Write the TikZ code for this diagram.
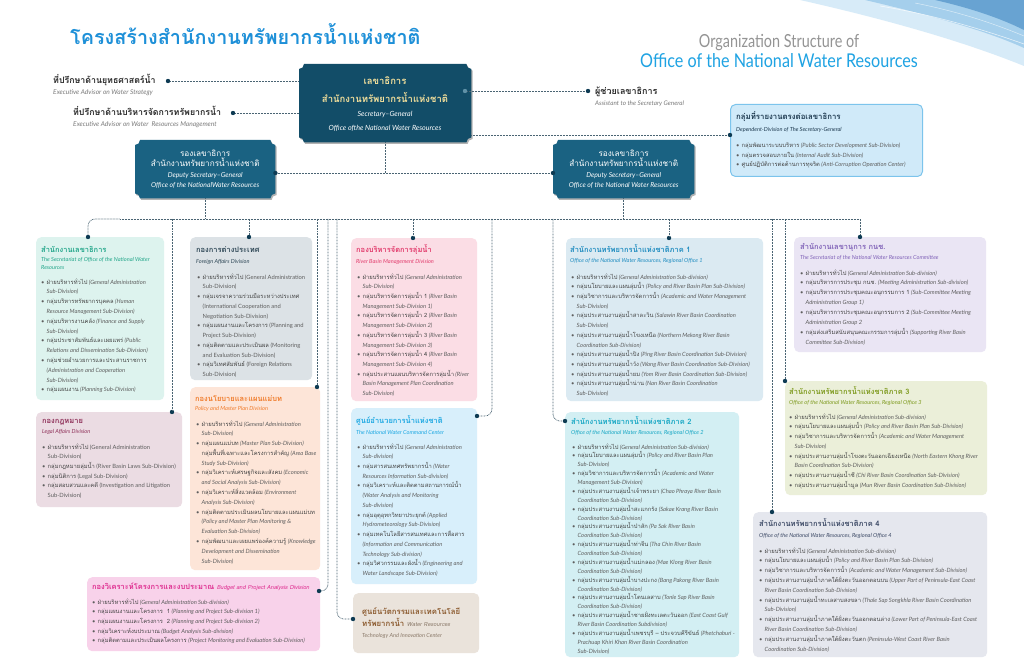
\documentclass[tikz,border=0pt]{standalone}
\usepackage{fontspec}
\setmainfont{Lato}
\newfontfamily\thaifont[Script=Thai]{Loma}
\usetikzlibrary{calc}
\definecolor{secc}{HTML}{124D68}
\definecolor{depc}{HTML}{1A6282}
\definecolor{goldc}{HTML}{F2DF9B}
\definecolor{dotc}{HTML}{0E3B53}
\definecolor{connc}{HTML}{4A6473}
\definecolor{titleblue}{HTML}{1E90D8}
\definecolor{offblue}{HTML}{1FA3E3}
\definecolor{titlegray}{HTML}{949494}
\definecolor{bodyc}{HTML}{5E5E5E}
\definecolor{thaic}{HTML}{454545}
\definecolor{advc}{HTML}{2B2B2B}
\definecolor{advec}{HTML}{7A7A7A}
\definecolor{sectf}{HTML}{DDF3EE}\definecolor{secth}{HTML}{22A68A}
\definecolor{fornf}{HTML}{DCE2E6}\definecolor{fornh}{HTML}{2E4756}
\definecolor{polif}{HTML}{FDE5D8}\definecolor{polih}{HTML}{F07C2C}
\definecolor{leglf}{HTML}{EBDCE3}\definecolor{leglh}{HTML}{8E2F58}
\definecolor{budgf}{HTML}{F8D2EA}\definecolor{budgh}{HTML}{DE2A8E}
\definecolor{rbmdf}{HTML}{FBDDE5}\definecolor{rbmdh}{HTML}{E23B6C}
\definecolor{cmdcf}{HTML}{D8EFFB}\definecolor{cmdch}{HTML}{1DA8E2}
\definecolor{innof}{HTML}{EAE3DB}\definecolor{innoh}{HTML}{8B5A2E}\definecolor{innoe}{HTML}{8B7A6A}
\definecolor{reg1f}{HTML}{DBEAF2}\definecolor{reg1h}{HTML}{1F8CC0}
\definecolor{reg2f}{HTML}{D3EFF3}\definecolor{reg2h}{HTML}{17A7C4}
\definecolor{purpf}{HTML}{EAE5F4}\definecolor{purph}{HTML}{8062B8}
\definecolor{reg3f}{HTML}{EBEFD9}\definecolor{reg3h}{HTML}{7E9A1E}
\definecolor{reg4f}{HTML}{E5E7EE}\definecolor{reg4h}{HTML}{3D4A66}
\definecolor{depdf}{HTML}{D0EAF9}\definecolor{depdb}{HTML}{7CC4EC}\definecolor{depdh}{HTML}{1E3A50}
\definecolor{blobA}{HTML}{8FC6EC}\definecolor{blobB}{HTML}{4A9BD6}\definecolor{blobC}{HTML}{1E6FB3}
% list helpers
\newcommand\bl{\makebox[5.5pt][l]{\textbullet}}
\newcommand\cl{\hspace*{5.5pt}}
\newcommand\ti[2]{\bl{\thaifont\color{thaic}#1} {\itshape #2}}
\newcommand\tu[2]{\bl{\thaifont\color{thaic}#1} #2}
\newcommand\ci[1]{\cl{\itshape #1}}
\newcommand\cu[1]{\cl #1}
\newcommand\blk[2]{\vtop{\baselineskip=#1\lineskiplimit=-50pt\lineskip=0pt\let\\\cr\halign{##\hfil\cr#2\crcr}}}
\newcommand\notchfill[2]{%
\fill[#2] ([xshift=5pt]#1.north west) -- ([xshift=-5pt]#1.north east)
 .. controls ([xshift=-5pt,yshift=-2.75pt]#1.north east) and ([xshift=-2.75pt,yshift=-5pt]#1.north east) .. ([yshift=-5pt]#1.north east)
 -- ([yshift=5pt]#1.south east)
 .. controls ([xshift=-2.75pt,yshift=5pt]#1.south east) and ([xshift=-5pt,yshift=2.75pt]#1.south east) .. ([xshift=-5pt]#1.south east)
 -- ([xshift=5pt]#1.south west)
 .. controls ([xshift=5pt,yshift=2.75pt]#1.south west) and ([xshift=2.75pt,yshift=5pt]#1.south west) .. ([yshift=5pt]#1.south west)
 -- ([yshift=-5pt]#1.north west)
 .. controls ([xshift=2.75pt,yshift=-5pt]#1.north west) and ([xshift=5pt,yshift=-2.75pt]#1.north west) .. ([xshift=5pt]#1.north west) -- cycle;}
\begin{document}
\begin{tikzpicture}[x=1pt,y=-1pt,
  conn/.style={draw=connc, line width=0.75pt, dash pattern=on 0.75pt off 0.75pt},
  dotn/.style={circle, fill=dotc, inner sep=0pt, minimum size=4.4pt},
  cbox/.style={rounded corners=5pt, inner sep=0pt, anchor=north west, draw=none},
  hole/.style={inner sep=0pt, anchor=north west, draw=none},
  hd/.style={anchor=base west, inner sep=0pt, font=\fontsize{7.5}{8}\thaifont\bfseries},
  sb/.style={anchor=base west, inner sep=0pt, font=\fontsize{5.6}{9}\selectfont\itshape},
  bd/.style={anchor=base west, inner sep=0pt, text=bodyc, font=\fontsize{5.8}{9}\selectfont},
  ctr/.style={anchor=base, inner sep=0pt}]
\useasboundingbox (0,0) rectangle (1024,668);
\fill[white] (0,0) rectangle (1024,668);
% decorative corner
\fill[blobA, opacity=0.35] (800,0) .. controls (880,18) and (960,40) .. (1024,66) -- (1024,0) -- cycle;
\fill[blobB, opacity=0.35] (865,0) .. controls (925,14) and (985,30) .. (1024,48) -- (1024,0) -- cycle;
\fill[blobC, opacity=0.45] (935,0) .. controls (970,8) and (1000,18) .. (1024,30) -- (1024,0) -- cycle;
\draw[white, opacity=0.7, line width=0.6pt] (880,6) .. controls (940,16) and (990,32) .. (1024,44);
\draw[white, opacity=0.6, line width=0.5pt] (915,3) .. controls (960,12) and (995,24) .. (1024,36);
% titles
\node[anchor=base west, inner sep=0pt, text=titleblue, font=\fontsize{19.8}{24}\thaifont\bfseries] (tth) at (70,45) {โครงสร้างสำนักงานทรัพยากรน้ำแห่งชาติ};
\node[ctr, text=titlegray, font=\fontsize{18}{20}\selectfont] (ten1) at (779,48) {\scalebox{0.8}[1]{Organization Structure of}};
\node[ctr, text=offblue, font=\fontsize{19}{21}\selectfont] (ten2) at (779,68) {\scalebox{0.85}[1]{Office of the National Water Resources}};
% secretary
\node[hole, minimum width=172pt, minimum height=78pt] (sec) at (299,64) {};
\begin{scope}[transform canvas={shift={(1.2pt,-1.6pt)}}]\notchfill{sec}{black!30}\end{scope}
\notchfill{sec}{secc}
\node[ctr, text=goldc, font=\fontsize{9.5}{10}\thaifont\bfseries] (sec1) at (385,85) {เลขาธิการ};
\node[ctr, text=goldc, font=\fontsize{9.5}{10}\thaifont\bfseries] (sec2) at (385,103) {สำนักงานทรัพยากรน้ำแห่งชาติ};
\node[ctr, text=white, font=\fontsize{7.1}{8}\selectfont\itshape] (sec3) at (385,117) {Secretary–General};
\node[ctr, text=white, font=\fontsize{7.1}{8}\selectfont\itshape] (sec4) at (385,131) {Office ofthe National Water Resources};
% advisors
\node[anchor=base west, inner sep=0pt, text=advc, font=\fontsize{8.8}{10}\thaifont\bfseries] (adv1) at (53,84) {ที่ปรึกษาด้านยุทธศาสตร์น้ำ};
\node[anchor=base west, inner sep=0pt, text=advec, font=\fontsize{6.6}{7}\selectfont\itshape] (adv1e) at (53,95) {Executive Advisor on Water Strategy};
\node[anchor=base west, inner sep=0pt, text=advc, font=\fontsize{8.8}{10}\thaifont\bfseries] (adv2) at (73,116) {ที่ปรึกษาด้านบริหารจัดการทรัพยากรน้ำ};
\node[anchor=base west, inner sep=0pt, text=advec, font=\fontsize{6.6}{7}\selectfont\itshape] (adv2e) at (73,127) {Executive Advisor on Water\ \ Resources Management};
\node[dotn] (dadv1) at (168,81) {};
\node[dotn] (dadv2) at (233,113) {};
\draw[conn] (dadv1) -- (dadv1 -| sec.west);
\draw[conn] (dadv2) -- (dadv2 -| sec.west);
% assistant
\node[dotn, fill=depc!70] (dsec) at (465,91) {};
\node[dotn] (dasst) at (588,91) {};
\draw[conn] (dsec) -- (dasst);
\node[anchor=base west, inner sep=0pt, text=advc, font=\fontsize{9}{10}\thaifont\bfseries] (asst) at (595,95) {ผู้ช่วยเลขาธิการ};
\node[anchor=base west, inner sep=0pt, text=advec, font=\fontsize{6.3}{7}\selectfont\itshape] (asste) at (595,106) {Assistant to the Secretary General};
% dependent division
\node[cbox, fill=depdf, draw=depdb, line width=1pt, minimum width=192pt, minimum height=72pt] (depd) at (730,104) {};
\node[dotn] (ddep) at (730,135) {};
\draw[conn] (ddep -| sec.east) -- (ddep);
\node[hd, text=depdh, font=\fontsize{7.8}{8}\thaifont\bfseries] (depd-h) at (736,120) {กลุ่มที่รายงานตรงต่อเลขาธิการ};
\node[sb, text=depdh] (depd-s) at (736,132) {Dependent-Division of The Secretary-General};
\node[bd] (depd-t) at (736,148) {\blk{9.5pt}{%
\ti{กลุ่มพัฒนาระบบบริหาร}{(Public Sector Development Sub-Division)}\\
\ti{กลุ่มตรวจสอบภายใน}{(Internal Audit Sub-Division)}\\
\ti{ศูนย์ปฏิบัติการต่อต้านการทุจริต}{(Anti-Corruption Operation Center)}}};
% deputies
\node[hole, minimum width=140pt, minimum height=58pt] (dep1) at (135,140) {};
\node[hole, minimum width=141pt, minimum height=58pt] (dep2) at (553,140) {};
\begin{scope}[transform canvas={shift={(1.2pt,-1.6pt)}}]\notchfill{dep1}{black!30}\notchfill{dep2}{black!30}\end{scope}
\notchfill{dep1}{depc}
\notchfill{dep2}{depc}
\foreach \d/\t in {dep1/Office of the NationalWater Resources, dep2/Office of the National Water Resources}{
  \node[ctr, text=white, font=\fontsize{8.2}{9}\thaifont] (\d-1) at ($(\d.north)+(0,17)$) {รองเลขาธิการ};
  \node[ctr, text=white, font=\fontsize{8.2}{9}\thaifont] (\d-2) at ($(\d.north)+(0,27)$) {สำนักงานทรัพยากรน้ำแห่งชาติ};
  \node[ctr, text=white, font=\fontsize{6.8}{7}\selectfont\itshape] (\d-3) at ($(\d.north)+(0,37.5)$) {Deputy Secretary–General};
  \node[ctr, text=white, font=\fontsize{6.8}{7}\selectfont\itshape] (\d-4) at ($(\d.north)+(0,47.5)$) {\t};
}
\node[dotn] (dd1) at (dep1.east |- 0,173) {};
\node[dotn] (dd2) at (dep2.west |- 0,173) {};
\draw[conn] (dd1) -- (dd2);
\draw[conn] (sec.south) -- (sec.south |- dd1);
% ---------- boxes ----------
\node[cbox, fill=sectf, minimum width=128pt, minimum height=163pt] (sect) at (36,237) {};
\node[cbox, fill=fornf, minimum width=122pt, minimum height=143pt] (forn) at (190,237) {};
\node[cbox, fill=polif, minimum width=130pt, minimum height=183pt] (poli) at (190,387) {};
\node[cbox, fill=leglf, minimum width=146pt, minimum height=95pt] (legl) at (36,412) {};
\node[cbox, fill=budgf, minimum width=233pt, minimum height=74pt] (budg) at (87,577) {};
\node[cbox, fill=rbmdf, minimum width=126pt, minimum height=163pt] (rbmd) at (351,238) {};
\node[cbox, fill=cmdcf, minimum width=126pt, minimum height=176pt] (cmdc) at (351,408) {};
\node[cbox, fill=innof, minimum width=126pt, minimum height=60pt] (inno) at (353,593) {};
\node[cbox, fill=reg1f, minimum width=197pt, minimum height=163pt] (reg1) at (566,238) {};
\node[cbox, fill=reg2f, minimum width=174pt, minimum height=245pt] (reg2) at (565,412) {};
\node[cbox, fill=purpf, minimum width=192pt, minimum height=115pt] (purp) at (794,237) {};
\node[cbox, fill=reg3f, minimum width=202pt, minimum height=114pt] (reg3) at (785,381) {};
\node[cbox, fill=reg4f, minimum width=234pt, minimum height=145pt] (reg4) at (753,512) {};
% ---------- connectors ----------
\node[dotn] (dsect) at (88,237) {};
\node[dotn] (dforn) at (249,237) {};
\node[dotn] (dlegl) at (172,412) {};
\node[dotn] (dpoli) at (317,387) {};
\node[dotn] (dbudg) at (319,591) {};
\node[dotn] (dinno) at (353,619) {};
\node[dotn] (drbmd) at (413,238) {};
\node[dotn] (dcmdc) at (477,416) {};
\node[dotn] (dreg2) at (565,421) {};
\node[dotn] (dreg1) at (669,238) {};
\node[dotn] (dreg4) at (772,512) {};
\node[dotn] (dreg3) at (785,381) {};
\node[dotn] (dpurp) at (860,237) {};
\coordinate (bL) at (88,219);
\coordinate (bR) at (860,219);
\coordinate (vbud) at (328,219);
\coordinate (vinn) at (337,219);
\coordinate (vcmd) at (492,219);
\coordinate (vrg2) at (553,219);
\draw[conn, rounded corners=7pt] (dsect) -- (bL) -- (120,219);
\draw[conn] (120,219) -- (bR) -- (dpurp);
\draw[conn] (dep1.south) -- (dep1.south |- bL);
\draw[conn] (dep2.south) -- (dep2.south |- bL);
\draw[conn] (dlegl |- bL) -- (dlegl);
\draw[conn] (dforn |- bL) -- (dforn);
\draw[conn] (dpoli |- bL) -- (dpoli);
\draw[conn] (drbmd |- bL) -- (drbmd);
\draw[conn] (dreg1 |- bL) -- (dreg1);
\draw[conn] (dreg4 |- bL) -- (dreg4);
\draw[conn] (dreg3 |- bL) -- (dreg3);
\draw[conn, rounded corners=7pt] (vbud) -- (vbud |- dbudg) -- (dbudg);
\draw[conn, rounded corners=7pt] (vinn) -- (vinn |- dinno) -- (dinno);
\draw[conn, rounded corners=7pt] (vcmd) -- (vcmd |- dcmdc) -- (dcmdc);
\draw[conn, rounded corners=7pt] (vrg2) -- (vrg2 |- dreg2) -- (dreg2);
% ---------- texts ----------
% secretariat
\node[hd, text=secth] (sect-h) at (41,252) {สำนักงานเลขาธิการ};
\node[sb, text=secth] (sect-s) at (41,261) {\blk{9pt}{The Secretariat of Office of the National Water\\Resources}};
\node[bd] (sect-t) at (41,284) {\blk{9.8pt}{%
\ti{ฝ่ายบริหารทั่วไป}{(General Administration}\\
\ci{Sub-Division)}\\
\ti{กลุ่มบริหารทรัพยากรบุคคล}{(Human}\\
\ci{Resource Management Sub-Division)}\\
\ti{กลุ่มบริหารงานคลัง}{(Finance and Supply}\\
\ci{Sub-Division)}\\
\ti{กลุ่มประชาสัมพันธ์และเผยแพร่}{(Public}\\
\ci{Relations and Dissemination Sub-Division)}\\
\bl{\thaifont\color{thaic}กลุ่มช่วยอำนวยการและประสานราชการ}\\
\ci{(Administration and Cooperation}\\
\ci{Sub-Division)}\\
\ti{กลุ่มแผนงาน}{(Planning Sub-Division)}}};
% foreign affairs
\node[hd, text=fornh] (forn-h) at (196,252) {กองการต่างประเทศ};
\node[sb, text=fornh] (forn-s) at (196,263) {Foreign Affairs Division};
\node[bd] (forn-t) at (197,279) {\blk{9.77pt}{%
\tu{ฝ่ายบริหารทั่วไป}{(General Administration}\\
\cu{Sub-Division)}\\
\bl{\thaifont\color{thaic}กลุ่มเจรจาความร่วมมือระหว่างประเทศ}\\
\cu{(International Cooperation and}\\
\cu{Negotiation Sub-Division)}\\
\tu{กลุ่มแผนงานและโครงการ}{(Planning and}\\
\cu{Project Sub-Division)}\\
\tu{กลุ่มติดตามและประเมินผล}{(Monitoring}\\
\cu{and Evaluation Sub-Division)}\\
\tu{กลุ่มวิเทศสัมพันธ์}{(Foreign Relations}\\
\cu{Sub-Division)}}};
% policy
\node[hd, text=polih] (poli-h) at (195,401) {กองนโยบายและแผนแม่บท};
\node[sb, text=polih] (poli-s) at (195,410) {Policy and Master Plan Division};
\node[bd] (poli-t) at (196,426) {\blk{9.79pt}{%
\ti{ฝ่ายบริหารทั่วไป}{(General Administration}\\
\ci{Sub-Division)}\\
\ti{กลุ่มแผนแม่บท}{(Master Plan Sub-Division)}\\
\cl{\thaifont\color{thaic}กลุ่มพื้นที่เฉพาะและโครงการสำคัญ} {\itshape (Area Base}\\
\ci{Study Sub-Division)}\\
\ti{กลุ่มวิเคราะห์เศรษฐกิจและสังคม}{(Economic}\\
\ci{and Social Analysis Sub-Division)}\\
\ti{กลุ่มวิเคราะห์สิ่งแวดล้อม}{(Environment}\\
\ci{Analysis Sub-Division)}\\
\bl{\thaifont\color{thaic}กลุ่มติดตามประเมินผลนโยบายและแผนแม่บท}\\
\ci{(Policy and Master Plan Monitoring \&}\\
\ci{Evaluation Sub-Division)}\\
\ti{กลุ่มพัฒนาและเผยแพร่องค์ความรู้}{(Knowledge}\\
\ci{Development and Dissemination}\\
\ci{Sub-Division)}}};
% legal
\node[hd, text=leglh] (legl-h) at (42,423) {กองกฎหมาย};
\node[sb, text=leglh] (legl-s) at (42,433) {Legal Affairs Division};
\node[bd] (legl-t) at (42,449) {\blk{9.73pt}{%
\tu{ฝ่ายบริหารทั่วไป}{(General Administration}\\
\cu{Sub-Division)}\\
\tu{กลุ่มกฎหมายลุ่มน้ำ}{(River Basin Laws Sub-Division)}\\
\tu{กลุ่มนิติการ}{(Legal Sub-Division)}\\
\tu{กลุ่มสอบสวนและคดี}{(Investigation and Litigation}\\
\cu{Sub-Division)}}};
% budget
\node[hd, text=budgh] (budg-h) at (92,589) {กองวิเคราะห์โครงการและงบประมาณ {\fontsize{5.6}{7}\selectfont\mdseries\itshape Budget and Project Analysis Division}};
\node[bd] (budg-t) at (92,604) {\blk{9.67pt}{%
\ti{ฝ่ายบริหารทั่วไป}{(General Administration Sub-division)}\\
\ti{กลุ่มแผนงานและโครงการ\ \ 1}{(Planning and Project Sub-division 1)}\\
\ti{กลุ่มแผนงานและโครงการ\ \ 2}{(Planning and Project Sub-division 2)}\\
\ti{กลุ่มวิเคราะห์งบประมาณ}{(Budget Analysis Sub-division)}\\
\ti{กลุ่มติดตามและประเมินผลโครงการ}{(Project Monitoring and Evaluation Sub-Division)}}};
% river basin management
\node[hd, text=rbmdh] (rbmd-h) at (356,252) {กองบริหารจัดการลุ่มน้ำ};
\node[sb, text=rbmdh] (rbmd-s) at (356,263) {River Basin Management Division};
\node[bd] (rbmd-t) at (357,279) {\blk{9.72pt}{%
\ti{ฝ่ายบริหารทั่วไป}{(General Administration}\\
\ci{Sub-Division)}\\
\ti{กลุ่มบริหารจัดการลุ่มน้ำ 1}{(River Basin}\\
\ci{Management Sub-Division 1)}\\
\ti{กลุ่มบริหารจัดการลุ่มน้ำ 2}{(River Basin}\\
\ci{Management Sub-Division 2)}\\
\ti{กลุ่มบริหารจัดการลุ่มน้ำ 3}{(River Basin}\\
\ci{Management Sub-Division 3)}\\
\ti{กลุ่มบริหารจัดการลุ่มน้ำ 4}{(River Basin}\\
\ci{Management Sub-Division 4)}\\
\ti{กลุ่มประสานแผนบริหารจัดการลุ่มน้ำ}{(River}\\
\ci{Basin Management Plan Coordination}\\
\ci{Sub-Division)}}};
% command center
\node[hd, text=cmdch] (cmdc-h) at (356,423) {ศูนย์อำนวยการน้ำแห่งชาติ};
\node[sb, text=cmdch] (cmdc-s) at (356,434) {The National Water Command Center};
\node[bd] (cmdc-t) at (357,449) {\blk{9.74pt}{%
\ti{ฝ่ายบริหารทั่วไป}{(General Administration}\\
\ci{Sub-division)}\\
\ti{กลุ่มสารสนเทศทรัพยากรน้ำ}{(Water}\\
\ci{Resources Information Sub-division)}\\
\bl{\thaifont\color{thaic}กลุ่มวิเคราะห์และติดตามสถานการณ์น้ำ}\\
\ci{(Water Analysis and Monitoring}\\
\ci{Sub-division)}\\
\ti{กลุ่มอุตุอุทกวิทยาประยุกต์}{(Applied}\\
\ci{Hydrometeorology Sub-Division)}\\
\bl{\thaifont\color{thaic}กลุ่มเทคโนโลยีสารสนเทศและการสื่อสาร}\\
\ci{(Information and Communication}\\
\ci{Technology Sub-division)}\\
\ti{กลุ่มวิศวกรรมและผังน้ำ}{(Engineering and}\\
\ci{Water Landscape Sub-Division)}}};
% innovation
\node[hd, text=innoh, font=\fontsize{7.8}{9}\thaifont\bfseries] (inno-1) at (362,614) {ศูนย์นวัตกรรมและเทคโนโลยี};
\node[hd, text=innoh, font=\fontsize{7.8}{9}\thaifont\bfseries] (inno-2) at (362,626) {ทรัพยากรน้ำ {\fontsize{5.6}{7}\selectfont\mdseries\itshape\color{innoe}Water Resources}};
\node[sb, text=innoe] (inno-3) at (362,637) {Technology And Innovation Center};
% regional 1
\node[hd, text=reg1h] (reg1-h) at (570,252) {สำนักงานทรัพยากรน้ำแห่งชาติภาค 1};
\node[sb, text=reg1h] (reg1-s) at (570,262) {Office of the National Water Resources, Regional Office 1};
\node[bd] (reg1-t) at (571,279) {\blk{9.72pt}{%
\ti{ฝ่ายบริหารทั่วไป}{(General Administration Sub-division)}\\
\ti{กลุ่มนโยบายและแผนลุ่มน้ำ}{(Policy and River Basin Plan Sub-Division)}\\
\ti{กลุ่มวิชาการและบริหารจัดการน้ำ}{(Academic and Water Management}\\
\ci{Sub-Division)}\\
\ti{กลุ่มประสานงานลุ่มน้ำสาละวิน}{(Salawin River Basin Coordination}\\
\ci{Sub-Division)}\\
\ti{กลุ่มประสานงานลุ่มน้ำโขงเหนือ}{(Northern Mekong River Basin}\\
\ci{Coordination Sub-Division)}\\
\ti{กลุ่มประสานงานลุ่มน้ำปิง}{(Ping River Basin Coordination Sub-Division)}\\
\ti{กลุ่มประสานงานลุ่มน้ำวัง}{(Wang River Basin Coordination Sub-Division)}\\
\ti{กลุ่มประสานงานลุ่มน้ำยม}{(Yom River Basin Coordination Sub-Division)}\\
\ti{กลุ่มประสานงานลุ่มน้ำน่าน}{(Nan River Basin Coordination}\\
\ci{Sub-Division)}}};
% regional 2
\node[hd, text=reg2h] (reg2-h) at (571,424) {สำนักงานทรัพยากรน้ำแห่งชาติภาค 2};
\node[sb, text=reg2h] (reg2-s) at (571,434) {Office of the National Water Resources, Regional Office 2};
\node[bd] (reg2-t) at (572,449) {\blk{8.88pt}{%
\ti{ฝ่ายบริหารทั่วไป}{(General Administration Sub-division)}\\
\ti{กลุ่มนโยบายและแผนลุ่มน้ำ}{(Policy and River Basin Plan}\\
\ci{Sub-Division)}\\
\ti{กลุ่มวิชาการและบริหารจัดการน้ำ}{(Academic and Water}\\
\ci{Management Sub-Division)}\\
\ti{กลุ่มประสานงานลุ่มน้ำเจ้าพระยา}{(Chao Phraya River Basin}\\
\ci{Coordination Sub-Division)}\\
\ti{กลุ่มประสานงานลุ่มน้ำสะแกกรัง}{(Sakae Krang River Basin}\\
\ci{Coordination Sub-Division)}\\
\ti{กลุ่มประสานงานลุ่มน้ำป่าสัก}{(Pa Sak River Basin}\\
\ci{Coordination Sub-Division)}\\
\ti{กลุ่มประสานงานลุ่มน้ำท่าจีน}{(Tha Chin River Basin}\\
\ci{Coordination Sub-Division)}\\
\ti{กลุ่มประสานงานลุ่มน้ำแม่กลอง}{(Mae Klong River Basin}\\
\ci{Coordination Sub-Division)}\\
\ti{กลุ่มประสานงานลุ่มน้ำบางปะกง}{(Bang Pakong River Basin}\\
\ci{Coordination Sub-Division)}\\
\ti{กลุ่มประสานงานลุ่มน้ำโตนเลสาบ}{(Tonle Sap River Basin}\\
\ci{Coordination Sub-Division)}\\
\ti{กลุ่มประสานงานลุ่มน้ำชายฝั่งทะเลตะวันออก}{(East Coast Gulf}\\
\ci{River Basin Coordination Subdivision)}\\
\ti{กลุ่มประสานงานลุ่มน้ำเพชรบุรี – ประจวบคีรีขันธ์}{(Phetchaburi -}\\
\ci{Prachuap Khiri Khan River Basin Coordination}\\
\ci{Sub-Division)}}};
% NWRC secretariat (purple)
\node[hd, text=purph] (purp-h) at (800,249) {สำนักงานเลขานุการ กนช.};
\node[sb, text=purph] (purp-s) at (800,259) {The Secretariat of the National Water Resources Committee};
\node[bd] (purp-t) at (800,275) {\blk{9.86pt}{%
\ti{ฝ่ายบริหารทั่วไป}{(General Administration Sub-division)}\\
\ti{กลุ่มบริหารการประชุม กนช.}{(Meeting Administration Sub-division)}\\
\ti{กลุ่มบริหารการประชุมคณะอนุกรรมการ 1}{(Sub-Committee Meeting}\\
\ci{Administration Group 1)}\\
\ti{กลุ่มบริหารการประชุมคณะอนุกรรมการ 2}{(Sub-Committee Meeting}\\
\ci{Administration Group 2}\\
\ti{กลุ่มส่งเสริมสนับสนุนคณะกรรมการลุ่มน้ำ}{(Supporting River Basin}\\
\ci{Committee Sub-Division)}}};
% regional 3
\node[hd, text=reg3h] (reg3-h) at (789,394) {สำนักงานทรัพยากรน้ำแห่งชาติภาค 3};
\node[sb, text=reg3h] (reg3-s) at (789,404) {Office of the National Water Resources, Regional Office 3};
\node[bd] (reg3-t) at (789,419) {\blk{9.76pt}{%
\ti{ฝ่ายบริหารทั่วไป}{(General Administration Sub-division)}\\
\ti{กลุ่มนโยบายและแผนลุ่มน้ำ}{(Policy and River Basin Plan Sub-Division)}\\
\ti{กลุ่มวิชาการและบริหารจัดการน้ำ}{(Academic and Water Management}\\
\ci{Sub-Division)}\\
\ti{กลุ่มประสานงานลุ่มน้ำโขงตะวันออกเฉียงเหนือ}{(North Eastern Khong River}\\
\ci{Basin Coordination Sub-Division)}\\
\ti{กลุ่มประสานงานลุ่มน้ำชี}{(Chi River Basin Coordination Sub-Division)}\\
\ti{กลุ่มประสานงานลุ่มน้ำมูล}{(Mun River Basin Coordination Sub-Division)}}};
% regional 4
\node[hd, text=reg4h] (reg4-h) at (759,526) {สำนักงานทรัพยากรน้ำแห่งชาติภาค 4};
\node[sb, text=reg4h] (reg4-s) at (759,537) {Office of the National Water Resources, Regional Office 4};
\node[bd] (reg4-t) at (759,553) {\blk{9.83pt}{%
\ti{ฝ่ายบริหารทั่วไป}{(General Administration Sub-division)}\\
\ti{กลุ่มนโยบายและแผนลุ่มน้ำ}{(Policy and River Basin Plan Sub-Division)}\\
\ti{กลุ่มวิชาการและบริหารจัดการน้ำ}{(Academic and Water Management Sub-Division)}\\
\ti{กลุ่มประสานงานลุ่มน้ำภาคใต้ฝั่งตะวันออกตอนบน}{(Upper Part of Peninsula-East Coast}\\
\ci{River Basin Coordination Sub-Division)}\\
\ti{กลุ่มประสานงานลุ่มน้ำทะเลสาบสงขลา}{(Thale Sap Songkhla River Basin Coordination}\\
\ci{Sub-Division)}\\
\ti{กลุ่มประสานงานลุ่มน้ำภาคใต้ฝั่งตะวันออกตอนล่าง}{(Lower Part of Peninsula-East Coast}\\
\ci{River Basin Coordination Sub-Division)}\\
\ti{กลุ่มประสานงานลุ่มน้ำภาคใต้ฝั่งตะวันตก}{(Peninsula-West Coast River Basin}\\
\ci{Coordination Sub-Division)}}};
\end{tikzpicture}
\end{document}
